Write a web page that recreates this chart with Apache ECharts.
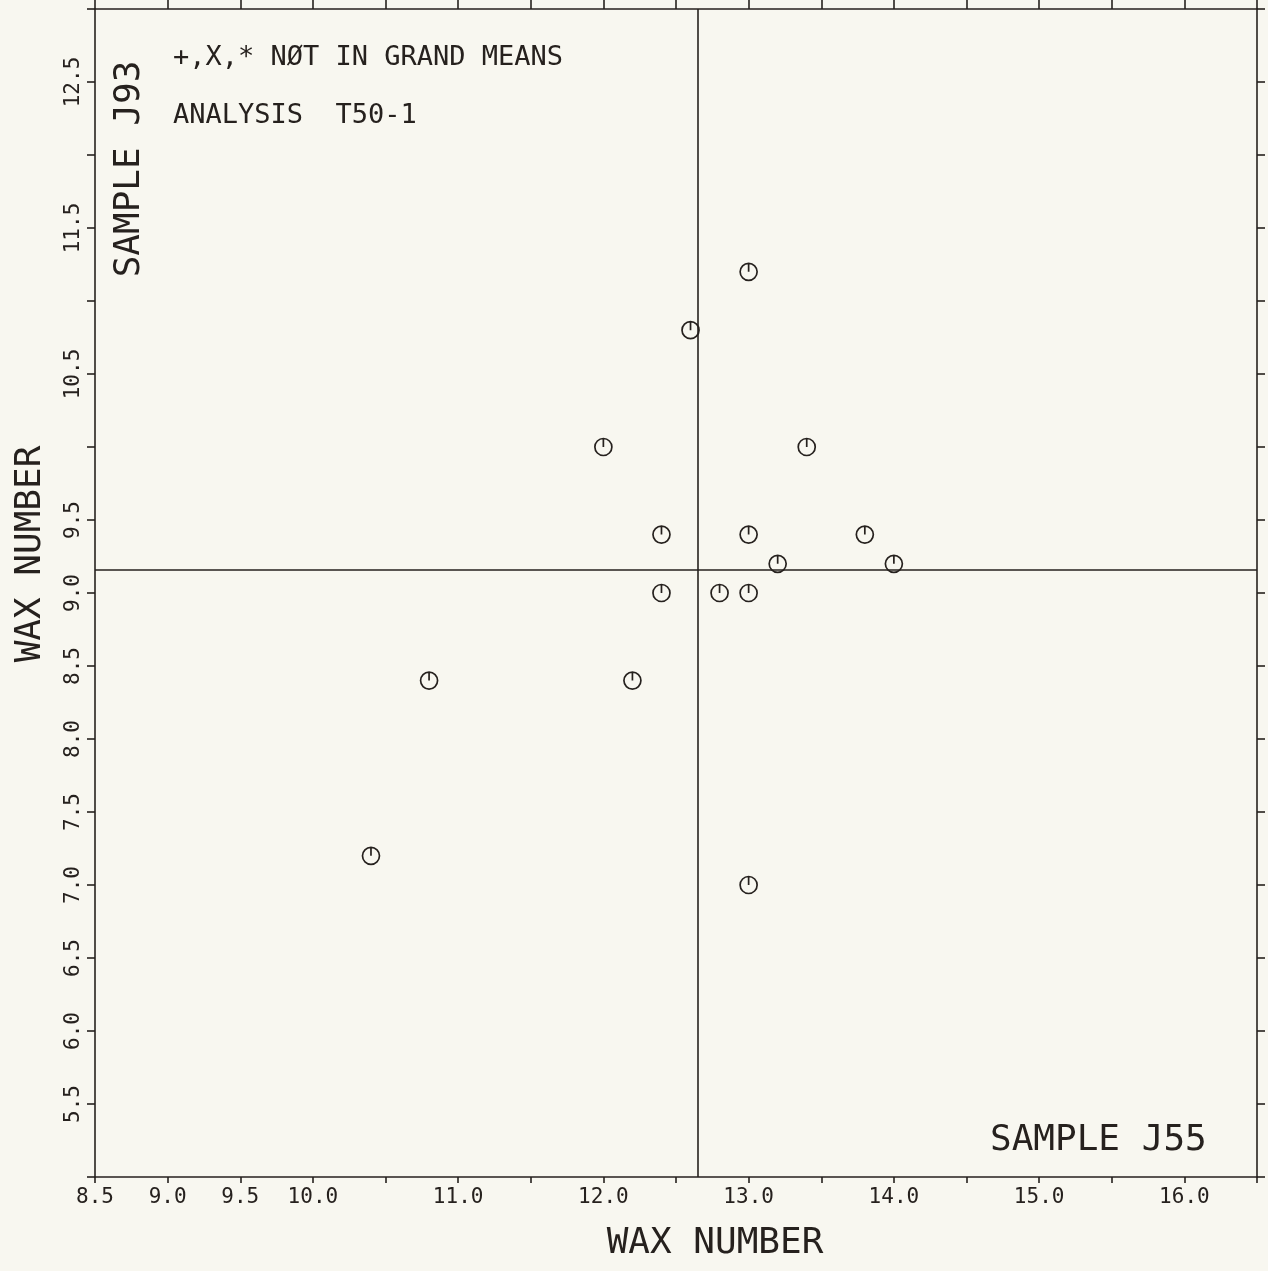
<!DOCTYPE html>
<html>
<head>
<meta charset="utf-8">
<script src="https://cdn.jsdelivr.net/npm/echarts@6/dist/echarts.min.js"></script>
<style>
html,body{margin:0;padding:0;background:#f8f7f0;}
#chart{width:1268px;height:1271px;}
</style>
</head>
<body>
<div id="chart"></div>
<script>
// ---- data ----
const waxJ55 = [13.0, 12.6, 12.0, 13.4, 12.4, 13.0, 13.8, 13.2, 14.0, 12.4, 12.8, 13.0, 10.8, 12.2, 10.4, 13.0];
const waxJ93 = [11.2, 10.8, 10.0, 10.0, 9.4, 9.4, 9.4, 9.2, 9.2, 9.0, 9.0, 9.0, 8.4, 8.4, 7.2, 7.0];
const grandMeanX = 12.65;
const grandMeanY = 9.16;
const xTickLabels = ['8.5','9.0','9.5','10.0','11.0','12.0','13.0','14.0','15.0','16.0'];
const yTickLabels = ['5.5','6.0','6.5','7.0','7.5','8.0','8.5','9.0','9.5','10.5','11.5','12.5'];
const xRange = [8.5, 16.5];
const yRange = [5.0, 13.0];
const tickStep = 0.5;

const points = waxJ55.map((x, i) => [x, waxJ93[i]]);

const INK = '#26211e';
const FONT = "'DejaVu Sans Mono', monospace";
const markerPath = 'path://M10,0 A10,10 0 0 1 10,20 A10,10 0 0 1 10,0 Z M10,0 L10,10';

const chart = echarts.init(document.getElementById('chart'));

const axisLineStyle = { show: true, lineStyle: { color: INK, width: 1.6 } };

chart.setOption({
  backgroundColor: '#f8f7f0',
  animation: false,
  grid: { left: 95, right: 11, top: 9, bottom: 94, outerBoundsMode: 'none', containLabel: false },
  xAxis: [{
    type: 'value', position: 'bottom', min: xRange[0], max: xRange[1], interval: tickStep,
    axisLine: axisLineStyle,
    axisTick: { show: true, length: 6, lineStyle: { color: INK, width: 1.6 } },
    splitLine: { show: false },
    axisLabel: {
      show: true, margin: 10, color: INK, fontSize: 21, fontFamily: FONT,
      showMinLabel: true, showMaxLabel: true,
      formatter: v => { const s = Number(v).toFixed(1); return xTickLabels.includes(s) ? s : ''; }
    },
    name: 'WAX NUMBER', nameLocation: 'middle', nameGap: 49,
    nameTextStyle: { color: INK, fontSize: 36, fontFamily: FONT, padding: [0, 0, 0, 78] }
  }, {
    type: 'value', position: 'top', min: xRange[0], max: xRange[1], interval: tickStep,
    axisLine: axisLineStyle,
    axisTick: { show: true, length: 9, lineStyle: { color: INK, width: 1.6 } },
    splitLine: { show: false },
    axisLabel: { show: false }
  }],
  yAxis: [{
    type: 'value', position: 'left', min: yRange[0], max: yRange[1], interval: tickStep,
    axisLine: axisLineStyle,
    axisTick: { show: true, length: 8, lineStyle: { color: INK, width: 1.6 } },
    splitLine: { show: false },
    axisLabel: {
      show: true, rotate: 90, margin: 11, color: INK, fontSize: 21, fontFamily: FONT,
      showMinLabel: true, showMaxLabel: true,
      formatter: v => { const s = Number(v).toFixed(1); return yTickLabels.includes(s) ? s : ''; }
    },
    name: 'WAX NUMBER', nameLocation: 'middle', nameGap: 46, nameRotate: 90,
    nameTextStyle: { color: INK, fontSize: 36, fontFamily: FONT, padding: [0, 0, 0, 78] }
  }, {
    type: 'value', position: 'right', min: yRange[0], max: yRange[1], interval: tickStep,
    axisLine: axisLineStyle,
    axisTick: { show: true, length: 8, lineStyle: { color: INK, width: 1.6 } },
    splitLine: { show: false },
    axisLabel: { show: false }
  }],
  series: [{
    type: 'scatter',
    xAxisIndex: 0, yAxisIndex: 0,
    data: points,
    symbol: markerPath,
    symbolSize: 17,
    symbolKeepAspect: true,
    itemStyle: { color: 'rgba(0,0,0,0)', borderColor: INK, borderWidth: 1.7, opacity: 1 },
    emphasis: { disabled: true },
    markLine: {
      silent: true, symbol: ['none', 'none'], animation: false,
      label: { show: false },
      lineStyle: { color: INK, width: 1.6, type: 'solid' },
      data: [{ xAxis: grandMeanX }, { yAxis: grandMeanY }]
    }
  }],
  graphic: [
    { type: 'text', x: 173, y: 58, silent: true,
      style: { text: '+,X,* NØT IN GRAND MEANS', fill: INK, fontSize: 27, fontFamily: FONT,
               align: 'left', verticalAlign: 'middle', textAlign: 'left', textVerticalAlign: 'middle' } },
    { type: 'text', x: 173, y: 116, silent: true,
      style: { text: 'ANALYSIS  T50-1', fill: INK, fontSize: 27, fontFamily: FONT,
               align: 'left', verticalAlign: 'middle', textAlign: 'left', textVerticalAlign: 'middle' } },
    { type: 'text', x: 130, y: 169, rotation: Math.PI / 2, silent: true,
      style: { text: 'SAMPLE J93', fill: INK, fontSize: 36, fontFamily: FONT,
               align: 'center', verticalAlign: 'middle', textAlign: 'center', textVerticalAlign: 'middle' } },
    { type: 'text', x: 990, y: 1141, silent: true,
      style: { text: 'SAMPLE J55', fill: INK, fontSize: 36, fontFamily: FONT,
               align: 'left', verticalAlign: 'middle', textAlign: 'left', textVerticalAlign: 'middle' } }
  ]
});
</script>
</body>
</html>
